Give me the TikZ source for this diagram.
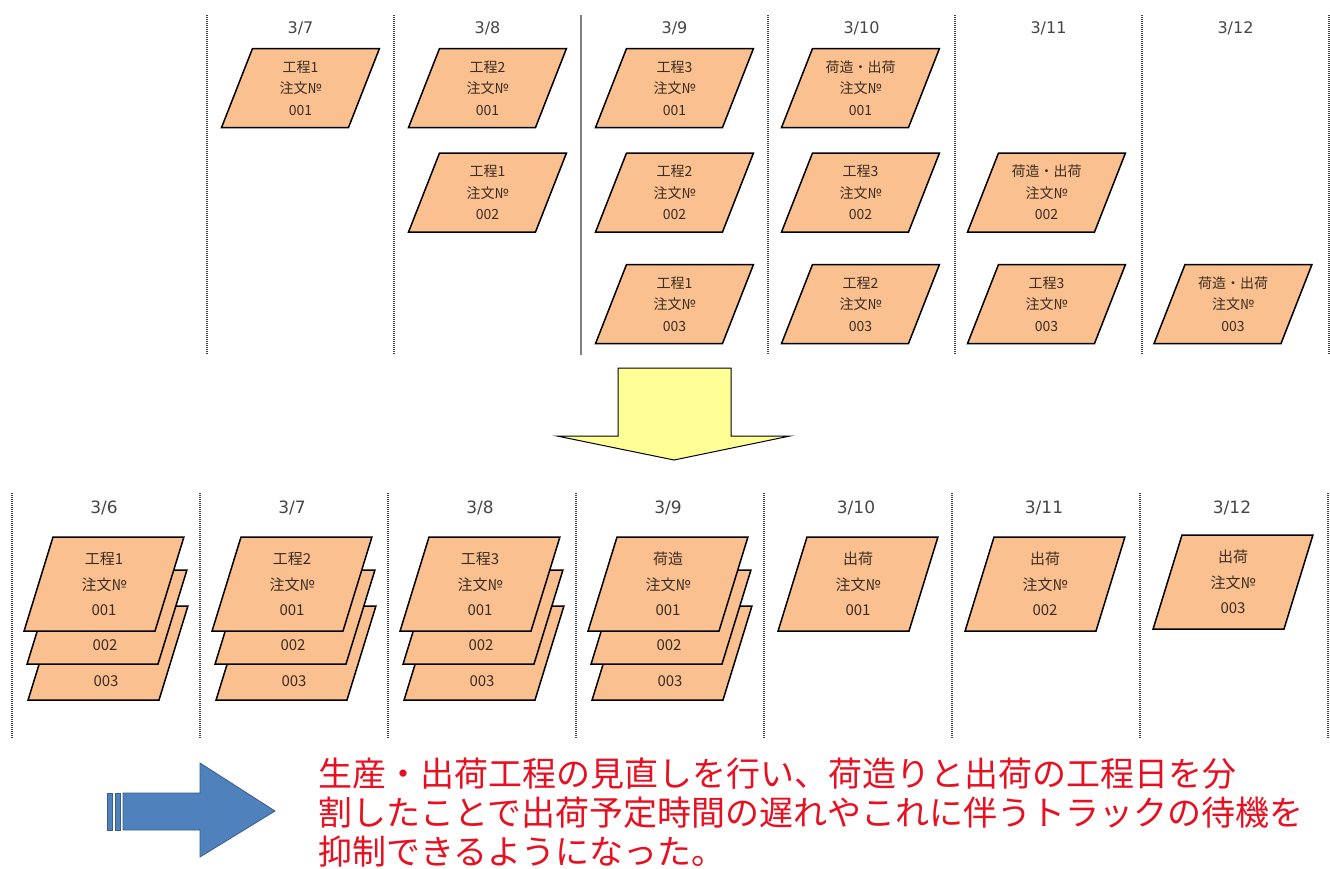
\documentclass[tikz,border=0pt]{standalone}
\usepackage{fontspec}
\usepackage{tikz}
\usetikzlibrary{shapes.geometric}
\newfontfamily\jpfont{Noto Sans CJK JP}
\newfontfamily\datefont{DejaVu Sans}
\definecolor{slipFill}{RGB}{250,192,143}
\definecolor{slipText}{RGB}{60,45,35}
\definecolor{dayGray}{RGB}{70,70,70}
\definecolor{arrowYellow}{RGB}{255,255,150}
\definecolor{arrowBlue}{RGB}{79,129,189}
\definecolor{arrowBlueEdge}{RGB}{56,93,138}
\definecolor{noteRed}{RGB}{232,16,32}
% fixed-size body of a slip (height, width, lines)
\newcommand\slipTop[1]{\parbox[c][79pt][c]{96pt}{\centering\leavevmode #1}}
\newcommand\slipLow[1]{\parbox[c][94pt][c]{102pt}{\centering\leavevmode #1}}

\begin{document}
\begin{tikzpicture}[x=1pt, y=-1pt,
    slip/.style={trapezium, trapezium left angle=68.6, trapezium right angle=111.4,
                 draw=black, fill=slipFill, line width=1.5pt, inner sep=0pt,
                 text=slipText, font=\jpfont\fontsize{14}{21.5}\selectfont},
    slipb/.style={slip, trapezium left angle=72.9, trapezium right angle=107.1,
                  font=\jpfont\fontsize{15}{25.5}\selectfont},
    slipnum/.style={inner sep=0pt, text=slipText, font=\jpfont\fontsize{15}{18}\selectfont},
    day/.style={text=dayGray, font=\datefont\fontsize{16}{18}\selectfont},
    dayline/.style={black!75, line width=1.5pt, dash pattern=on 1pt off 1pt},
    note/.style={text=noteRed, inner sep=0pt, align=left,
                 font=\jpfont\fontsize{34}{39}\selectfont}
  ]
  \path[use as bounding box, fill=white] (0,0) rectangle (1330,868);

  % before: days 3/7 - 3/12
  \foreach \x in {207,394,768,955,1142,1329}
    \draw[dayline] (\x,15) -- (\x,355);
  \draw[gray, line width=2.5pt] (581,15) -- (581,355);
  \foreach \d [count=\i from 7] in {3/7,3/8,3/9,3/10,3/11,3/12}
    \node[day] (b\i) at ({300.5+187*(\i-7)},28) {\d};

  \node[slip] (b7-1) at (300.5,88) {\slipTop{工程1\\注文№\\001}};
  \node[slip] (b8-1) at (487.5,88) {\slipTop{工程2\\注文№\\001}};
  \node[slip] (b8-2) at (487.5,192.5) {\slipTop{工程1\\注文№\\002}};
  \node[slip] (b9-1) at (674.5,88) {\slipTop{工程3\\注文№\\001}};
  \node[slip] (b9-2) at (674.5,192.5) {\slipTop{工程2\\注文№\\002}};
  \node[slip] (b9-3) at (674.5,304) {\slipTop{工程1\\注文№\\003}};
  \node[slip] (b10-1) at (860.5,88) {\slipTop{荷造・出荷\\注文№\\001}};
  \node[slip] (b10-2) at (860.5,192.5) {\slipTop{工程3\\注文№\\002}};
  \node[slip] (b10-3) at (860.5,304) {\slipTop{工程2\\注文№\\003}};
  \node[slip] (b11-2) at (1046.5,192.5) {\slipTop{荷造・出荷\\注文№\\002}};
  \node[slip] (b11-3) at (1046.5,304) {\slipTop{工程3\\注文№\\003}};
  \node[slip] (b12-3) at (1233,304) {\slipTop{荷造・出荷\\注文№\\003}};

  % change arrow
  \draw[fill=arrowYellow, line width=1pt, line join=miter]
    (618,368) -- (731,368) -- (731,436) -- (790,436) -- (674,460)
    -- (557,436) -- (618,436) -- cycle;

  % after: days 3/6 - 3/12
  \foreach \x in {12,200,388,576,764,952,1140,1328}
    \draw[dayline] (\x,493) -- (\x,738);
  \foreach \d [count=\i from 6] in {3/6,3/7,3/8,3/9,3/10,3/11,3/12}
    \node[day, font=\datefont\fontsize{17}{19}\selectfont] (a\i) at ({104+188*(\i-6)},508) {\d};

  \foreach \cx/\i/\s in {104/6/工程1, 292/7/工程2, 480/8/工程3, 668/9/荷造}{
    \node[slipb] (a\i-3) at (\cx+4,653) {\slipLow{}};
    \node[slipnum] (a\i-3n) at (\cx+2,681) {003};
    \node[slipb] (a\i-2) at (\cx+3,617) {\slipLow{}};
    \node[slipnum] (a\i-2n) at (\cx+1,645) {002};
    \node[slipb] (a\i-1) at (\cx,584) {\slipLow{\s\\注文№\\001}};
  }
  \node[slipb] (a10-1) at (858,584) {\slipLow{出荷\\注文№\\001}};
  \node[slipb] (a11-2) at (1045,584) {\slipLow{出荷\\注文№\\002}};
  \node[slipb] (a12-3) at (1233,582) {\slipLow{出荷\\注文№\\003}};

  % result
  \fill[arrowBlue, draw=arrowBlueEdge, line width=0.8pt]
    (123,793) -- (200,793) -- (200,763) -- (275,811) -- (200,857)
    -- (200,830) -- (123,830) -- cycle;
  \fill[arrowBlue, draw=arrowBlueEdge, line width=0.8pt] (107,793) rectangle (112,830);
  \fill[arrowBlue, draw=arrowBlueEdge, line width=0.8pt] (115,793) rectangle (120,830);
  \node[note, anchor=north west] (note) at (318,758)
    {生産・出荷工程の見直しを行い、荷造りと出荷の工程日を分\\
     割したことで出荷予定時間の遅れやこれに伴うトラックの待機を\\
     抑制できるようになった。};
\end{tikzpicture}
\end{document}
